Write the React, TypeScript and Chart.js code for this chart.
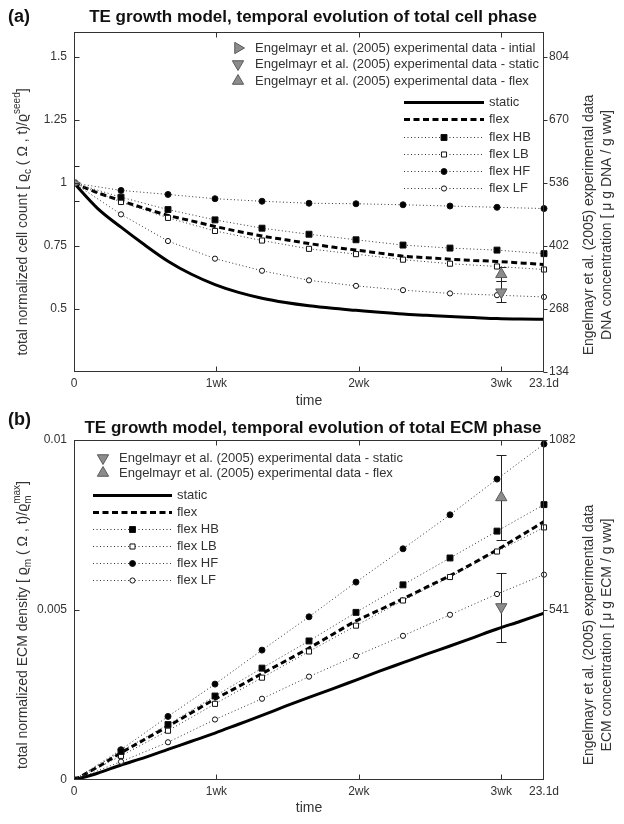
import React, { useEffect, useRef } from 'react';
import { Chart, registerables } from 'chart.js';

Chart.register(...registerables);

const FONT = "'Liberation Sans', Arial, Helvetica, sans-serif";

// ---------- shared time axis ----------
const X_TICKS = [0, 7, 14, 21, 23.1];
const X_TICK_LABELS = ['0', '1wk', '2wk', '3wk', '23.1d'];
const DAYS = [0, 2.31, 4.62, 6.93, 9.24, 11.55, 13.86, 16.17, 18.48, 20.79, 23.1];
const DAYS_FINE = [0, 1.155, 2.31, 3.465, 4.62, 5.775, 6.93, 8.085, 9.24, 10.395, 11.55, 12.705, 13.86, 15.015, 16.17, 17.325, 18.48, 19.635, 20.79, 21.945, 23.1];

// ---------- (a) cell phase ----------
const A_Y_TICKS = [0.5, 0.75, 1, 1.25, 1.5];
const A_Y_TICK_LABELS = ['0.5', '0.75', '1', '1.25', '1.5'];
const A_Y2_TICKS = [134, 268, 402, 536, 670, 804];
const A_STATIC = [1.0, 0.9, 0.825, 0.755, 0.69, 0.638, 0.597, 0.566, 0.543, 0.526, 0.513, 0.503, 0.495, 0.487, 0.48, 0.475, 0.47, 0.466, 0.462, 0.46, 0.459];
const A_FLEX = [1.0, 0.962, 0.93, 0.9, 0.872, 0.85, 0.828, 0.808, 0.79, 0.775, 0.76, 0.746, 0.734, 0.722, 0.71, 0.704, 0.698, 0.693, 0.689, 0.683, 0.677];
const A_HB = [1, 0.944, 0.895, 0.854, 0.821, 0.797, 0.775, 0.754, 0.742, 0.734, 0.72];
const A_LB = [1, 0.925, 0.862, 0.81, 0.772, 0.739, 0.718, 0.696, 0.68, 0.669, 0.657];
const A_HF = [1, 0.971, 0.955, 0.938, 0.928, 0.92, 0.918, 0.914, 0.909, 0.904, 0.899];
const A_LF = [1, 0.876, 0.77, 0.7, 0.652, 0.614, 0.592, 0.575, 0.562, 0.555, 0.548];
const A_EXP_LABELS = [
  'Engelmayr et al. (2005) experimental data - intial',
  'Engelmayr et al. (2005) experimental data - static',
  'Engelmayr et al. (2005) experimental data - flex',
];
const A_EXP_DAY = [0, 21, 21];
const A_EXP_MEAN = [1.0, 0.567, 0.638];
const A_EXP_LO = [0.929, 0.528, 0.611];
const A_EXP_HI = [1.067, 0.611, 0.667];

// ---------- (b) ECM phase ----------
const B_Y_TICKS = [0, 0.005, 0.01];
const B_Y_TICK_LABELS = ['0', '0.005', '0.01'];
const B_Y2_TICKS = [541, 1082];
const B_STATIC = [0, 0.0002, 0.00044, 0.00066, 0.0009, 0.00114, 0.00138, 0.00164, 0.0019, 0.00217, 0.00243, 0.00268, 0.00294, 0.0032, 0.00345, 0.0037, 0.00394, 0.00419, 0.00444, 0.00467, 0.00491];
const B_FLEX = [0, 0.00038, 0.0008, 0.00119, 0.00158, 0.00198, 0.00238, 0.00275, 0.00313, 0.0035, 0.00388, 0.00428, 0.00468, 0.005, 0.00533, 0.00567, 0.00601, 0.00638, 0.00677, 0.00718, 0.0076];
const B_HB = [0, 0.00084, 0.00163, 0.00247, 0.00329, 0.00409, 0.00493, 0.00574, 0.00653, 0.00732, 0.0081];
const B_LB = [0, 0.00071, 0.00145, 0.00224, 0.00301, 0.00378, 0.00454, 0.00528, 0.00597, 0.00672, 0.00743];
const B_HF = [0, 0.00089, 0.00187, 0.00282, 0.00382, 0.0048, 0.00582, 0.0068, 0.0078, 0.00885, 0.00988];
const B_LF = [0, 0.00054, 0.00111, 0.00178, 0.00239, 0.00304, 0.00365, 0.00424, 0.00486, 0.00547, 0.00604];
const B_EXP_LABELS = [
  'Engelmayr et al. (2005) experimental data - static',
  'Engelmayr et al. (2005) experimental data - flex',
];
const B_EXP_DAY = [21, 21];
const B_EXP_MEAN = [0.00509, 0.00831];
const B_EXP_LO = [0.00405, 0.00707];
const B_EXP_HI = [0.0061, 0.00956];

const SERIES_LABELS = ['static', 'flex', 'flex HB', 'flex LB', 'flex HF', 'flex LF'];

// ---------- helpers ----------
const pts = (xs: number[], ys: number[]) => xs.map((x, i) => ({ x, y: ys[i] }));

type Seg = { t: string; k?: 'n' | 'sub' | 'sup' | 'subsup'; sub?: string; sup?: string };

function drawRichVertical(ctx: CanvasRenderingContext2D, segs: Seg[], cx: number, cy: number, size: number) {
  const small = Math.round(size * 0.72);
  const nf = `${size}px ${FONT}`;
  const sf = `${small}px ${FONT}`;
  const widthOf = (s: Seg) => {
    if (!s.k || s.k === 'n') { ctx.font = nf; return ctx.measureText(s.t).width; }
    ctx.font = sf;
    if (s.k === 'subsup') return Math.max(ctx.measureText(s.sub || '').width, ctx.measureText(s.sup || '').width);
    return ctx.measureText(s.t).width;
  };
  const total = segs.reduce((a, s) => a + widthOf(s), 0);
  ctx.save();
  ctx.translate(cx, cy);
  ctx.rotate(-Math.PI / 2);
  ctx.textBaseline = 'alphabetic';
  ctx.textAlign = 'left';
  ctx.fillStyle = '#333';
  let x = -total / 2;
  const base = size * 0.35;
  segs.forEach((s) => {
    const w = widthOf(s);
    if (!s.k || s.k === 'n') { ctx.font = nf; ctx.fillText(s.t, x, base); }
    else if (s.k === 'sub') { ctx.font = sf; ctx.fillText(s.t, x, base + size * 0.28); }
    else if (s.k === 'sup') { ctx.font = sf; ctx.fillText(s.t, x, base - size * 0.5); }
    else { ctx.font = sf; ctx.fillText(s.sub || '', x, base + size * 0.28); ctx.fillText(s.sup || '', x, base - size * 0.5); }
    x += w;
  });
  ctx.restore();
}

function drawMarker(ctx: CanvasRenderingContext2D, style: string, x: number, y: number, r: number, rot: number, fill: string, stroke: string, bw: number) {
  ctx.save();
  ctx.translate(x, y);
  ctx.rotate((rot * Math.PI) / 180);
  ctx.setLineDash([]);
  ctx.beginPath();
  if (style === 'circle') ctx.arc(0, 0, r, 0, Math.PI * 2);
  else if (style === 'rect') { const s = r * Math.SQRT1_2; ctx.rect(-s, -s, 2 * s, 2 * s); }
  else if (style === 'triangle') {
    for (let k = 0; k < 3; k++) {
      const a = (k * 2 * Math.PI) / 3;
      const px = Math.sin(a) * r, py = -Math.cos(a) * r;
      if (k === 0) ctx.moveTo(px, py); else ctx.lineTo(px, py);
    }
    ctx.closePath();
  }
  ctx.fillStyle = fill;
  ctx.fill();
  if (bw > 0) { ctx.lineWidth = bw; ctx.strokeStyle = stroke; ctx.stroke(); }
  ctx.restore();
}

interface DecorCfg {
  id: string;
  letter: string;
  letterX: number; letterY: number;
  title: string; titleY: number;
  leftTitle: Seg[]; leftTitleX: number; leftTitleY: number;
  rightTitle: string[]; rightTitleX: number[]; rightTitleY: number;
  xTitleY: number;
  err: { day: number[]; lo: number[]; hi: number[] };
  yTicks: number[]; y2Ticks: number[];
  legMarkers: { ds: number; y: number }[]; legMarkerX: number; legMarkerTextX: number;
  legLines: { ds: number; y: number }[]; legLineX0: number; legLineX1: number; legLineTextX: number;
}

function makeDecor(cfg: DecorCfg) {
  return {
    id: cfg.id,
    beforeDatasetsDraw(chart: any) {
      const { ctx, chartArea: a, scales } = chart;
      ctx.save();
      ctx.beginPath();
      ctx.rect(a.left, a.top, a.right - a.left, a.bottom - a.top);
      ctx.clip();
      ctx.strokeStyle = '#222';
      ctx.lineWidth = 1;
      ctx.setLineDash([]);
      cfg.err.day.forEach((d, i) => {
        const x = Math.round(scales.x.getPixelForValue(d)) + 0.5;
        const ya = Math.round(scales.y.getPixelForValue(cfg.err.lo[i])) + 0.5;
        const yb = Math.round(scales.y.getPixelForValue(cfg.err.hi[i])) + 0.5;
        ctx.beginPath();
        ctx.moveTo(x, ya); ctx.lineTo(x, yb);
        ctx.moveTo(x - 5, ya); ctx.lineTo(x + 5, ya);
        ctx.moveTo(x - 5, yb); ctx.lineTo(x + 5, yb);
        ctx.stroke();
      });
      ctx.restore();
    },
    afterDraw(chart: any) {
      const { ctx, chartArea: a, scales } = chart;
      const L = Math.round(a.left) + 0.5, R = Math.round(a.right) - 0.5;
      const T = Math.round(a.top) + 0.5, B = Math.round(a.bottom) - 0.5;
      ctx.save();
      ctx.setLineDash([]);
      ctx.strokeStyle = '#333';
      ctx.lineWidth = 1;
      ctx.strokeRect(L, T, R - L, B - T);
      ctx.beginPath();
      X_TICKS.forEach((v) => {
        const px = Math.round(scales.x.getPixelForValue(v)) + 0.5;
        if (px <= L + 1 || px >= R - 1) return;
        ctx.moveTo(px, B); ctx.lineTo(px, B - 5);
        ctx.moveTo(px, T); ctx.lineTo(px, T + 5);
      });
      cfg.yTicks.forEach((v) => {
        const py = Math.round(scales.y.getPixelForValue(v)) + 0.5;
        if (py <= T + 1 || py >= B - 1) return;
        ctx.moveTo(L, py); ctx.lineTo(L + 5, py);
      });
      cfg.y2Ticks.forEach((v) => {
        const py = Math.round(scales.y1.getPixelForValue(v)) + 0.5;
        ctx.moveTo(R, py); ctx.lineTo(R + 4, py);
      });
      ctx.stroke();

      // titles
      ctx.fillStyle = '#111';
      ctx.textBaseline = 'middle';
      ctx.textAlign = 'left';
      ctx.font = `bold 18px ${FONT}`;
      ctx.fillText(cfg.letter, cfg.letterX, cfg.letterY);
      ctx.textAlign = 'center';
      ctx.font = `bold 17px ${FONT}`;
      ctx.fillText(cfg.title, (a.left + a.right) / 2 + 4, cfg.titleY);

      // x title
      ctx.fillStyle = '#333';
      ctx.font = `14px ${FONT}`;
      ctx.fillText('time', (a.left + a.right) / 2, cfg.xTitleY);

      // left title
      drawRichVertical(ctx, cfg.leftTitle, cfg.leftTitleX, cfg.leftTitleY, 14);

      // right titles
      cfg.rightTitle.forEach((t, i) => {
        ctx.save();
        ctx.translate(cfg.rightTitleX[i], cfg.rightTitleY);
        ctx.rotate(-Math.PI / 2);
        ctx.textAlign = 'center';
        ctx.textBaseline = 'middle';
        ctx.fillStyle = '#333';
        ctx.font = `14px ${FONT}`;
        ctx.fillText(t, 0, 0);
        ctx.restore();
      });

      // legend
      const dss = chart.data.datasets;
      ctx.font = `13px ${FONT}`;
      ctx.textAlign = 'left';
      ctx.textBaseline = 'middle';
      cfg.legMarkers.forEach((m) => {
        const d = dss[m.ds];
        drawMarker(ctx, d.pointStyle, cfg.legMarkerX, m.y, d.pointRadius, d.pointRotation || 0, d.pointBackgroundColor, d.pointBorderColor, d.pointBorderWidth);
        ctx.fillStyle = '#333';
        ctx.fillText(d.label, cfg.legMarkerTextX, m.y);
      });
      cfg.legLines.forEach((m) => {
        const d = dss[m.ds];
        ctx.save();
        ctx.beginPath();
        ctx.setLineDash(d.borderDash || []);
        ctx.lineWidth = d.borderWidth;
        ctx.strokeStyle = d.borderColor;
        ctx.moveTo(cfg.legLineX0, m.y + 0.5);
        ctx.lineTo(cfg.legLineX1, m.y + 0.5);
        ctx.stroke();
        ctx.restore();
        if (d.pointRadius > 0) {
          drawMarker(ctx, d.pointStyle, (cfg.legLineX0 + cfg.legLineX1) / 2, m.y + 0.5, d.pointRadius, 0, d.pointBackgroundColor, d.pointBorderColor, d.pointBorderWidth);
        }
        ctx.fillStyle = '#333';
        ctx.fillText(d.label, cfg.legLineTextX, m.y);
      });
      ctx.restore();
    },
  };
}

const SERIES_CLIP = { left: 0, top: 0, right: 8, bottom: 0 };

function buildDatasets(expLabels: string[], expDay: number[], expMean: number[], expRot: number[], s: number[][], f: number[][]) {
  const exp = expLabels.map((lab, i) => ({
    label: lab,
    data: [{ x: expDay[i], y: expMean[i] }],
    showLine: false,
    pointStyle: 'triangle',
    pointRadius: 6.5,
    pointRotation: expRot[i],
    pointBackgroundColor: '#8c8c8c',
    pointBorderColor: '#5a5a5a',
    pointBorderWidth: 1,
    borderColor: '#5a5a5a',
  }));
  const dotted = (lab: string, ys: number[], style: string, r: number, fill: string) => ({
    label: lab,
    data: pts(DAYS, ys),
    borderColor: '#333',
    borderWidth: 1,
    borderDash: [1, 2.5],
    tension: 0,
    pointStyle: style,
    pointRadius: r,
    pointBackgroundColor: fill,
    pointBorderColor: '#111',
    pointBorderWidth: 1,
    clip: SERIES_CLIP,
  });
  return [
    ...exp,
    dotted(SERIES_LABELS[2], s[0], 'rect', 4.2, '#000'),
    dotted(SERIES_LABELS[3], s[1], 'rect', 3.6, '#fff'),
    dotted(SERIES_LABELS[4], s[2], 'circle', 3, '#000'),
    dotted(SERIES_LABELS[5], s[3], 'circle', 2.6, '#fff'),
    {
      label: SERIES_LABELS[1], data: pts(DAYS_FINE, f[1]), borderColor: '#000', borderWidth: 3,
      borderDash: [6, 3.5], pointRadius: 0, cubicInterpolationMode: 'monotone',
    },
    {
      label: SERIES_LABELS[0], data: pts(DAYS_FINE, f[0]), borderColor: '#000', borderWidth: 3,
      borderDash: [], pointRadius: 0, cubicInterpolationMode: 'monotone',
    },
  ];
}

function baseOptions(padTop: number, xHeight: number, yMin: number, yMax: number, yTicks: number[], yLabels: string[], y2Min: number, y2Max: number, y2Ticks: number[]) {
  const tickFont = { size: 12, family: FONT };
  return {
    responsive: false,
    animation: false,
    events: [],
    layout: { padding: { top: padTop, left: 0, right: 0, bottom: 0 } },
    plugins: { legend: { display: false }, tooltip: { enabled: false }, title: { display: false } },
    scales: {
      x: {
        type: 'linear', min: 0, max: 23.1,
        grid: { display: false, drawTicks: false }, border: { display: false },
        afterBuildTicks: (s: any) => { s.ticks = X_TICKS.map((v) => ({ value: v })); },
        afterFit: (s: any) => { s.height = xHeight; },
        ticks: { autoSkip: false, maxRotation: 0, padding: 4, color: '#333', font: tickFont, callback: (_v: any, i: number) => X_TICK_LABELS[i] },
      },
      y: {
        type: 'linear', position: 'left', min: yMin, max: yMax,
        grid: { display: false, drawTicks: false }, border: { display: false },
        afterBuildTicks: (s: any) => { s.ticks = yTicks.map((v) => ({ value: v })); },
        afterFit: (s: any) => { s.width = 74; },
        ticks: { autoSkip: false, padding: 7, color: '#333', font: tickFont, callback: (_v: any, i: number) => yLabels[i] },
      },
      y1: {
        type: 'linear', position: 'right', min: y2Min, max: y2Max,
        grid: { display: false, drawTicks: false }, border: { display: false },
        afterBuildTicks: (s: any) => { s.ticks = y2Ticks.map((v) => ({ value: v })); },
        afterFit: (s: any) => { s.width = 80; },
        ticks: { autoSkip: false, padding: 5, color: '#333', font: tickFont, callback: (v: any) => String(v) },
      },
    },
  };
}

function buildA(): any {
  return {
    type: 'line',
    data: { datasets: buildDatasets(A_EXP_LABELS, A_EXP_DAY, A_EXP_MEAN, [90, 180, 0], [A_HB, A_LB, A_HF, A_LF], [A_STATIC, A_FLEX]) },
    options: baseOptions(32, 40, 0.25, 1.6, A_Y_TICKS, A_Y_TICK_LABELS, 134, 857.6, A_Y2_TICKS),
    plugins: [makeDecor({
      id: 'decorA', letter: '(a)', letterX: 8, letterY: 17,
      title: 'TE growth model, temporal evolution of total cell phase', titleY: 17,
      leftTitle: [
        { t: 'total normalized cell count [ ϱ' }, { t: 'c', k: 'sub' }, { t: ' ( Ω , t)/ϱ' }, { t: 'seed', k: 'sup' }, { t: ']' },
      ],
      leftTitleX: 22, leftTitleY: 222,
      rightTitle: ['Engelmayr et al. (2005) experimental data', 'DNA concentration [ μ g DNA / g ww]'],
      rightTitleX: [589, 607], rightTitleY: 225,
      xTitleY: 401,
      err: { day: A_EXP_DAY, lo: A_EXP_LO, hi: A_EXP_HI },
      yTicks: A_Y_TICKS, y2Ticks: A_Y2_TICKS,
      legMarkers: [{ ds: 0, y: 48 }, { ds: 1, y: 64 }, { ds: 2, y: 81 }], legMarkerX: 238, legMarkerTextX: 255,
      legLines: [{ ds: 8, y: 102 }, { ds: 7, y: 119 }, { ds: 3, y: 137 }, { ds: 4, y: 154 }, { ds: 5, y: 171 }, { ds: 6, y: 188 }],
      legLineX0: 404, legLineX1: 484, legLineTextX: 489,
    })],
  };
}

function buildB(): any {
  return {
    type: 'line',
    data: { datasets: buildDatasets(B_EXP_LABELS, B_EXP_DAY, B_EXP_MEAN, [180, 0], [B_HB, B_LB, B_HF, B_LF], [B_STATIC, B_FLEX]) },
    options: baseOptions(28, 44, 0, 0.01, B_Y_TICKS, B_Y_TICK_LABELS, 0, 1082, B_Y2_TICKS),
    plugins: [makeDecor({
      id: 'decorB', letter: '(b)', letterX: 8, letterY: 8,
      title: 'TE growth model, temporal evolution of total ECM phase', titleY: 16,
      leftTitle: [
        { t: 'total normalized ECM density [ ϱ' }, { t: 'm', k: 'sub' }, { t: ' ( Ω , t)/ϱ' }, { t: '', k: 'subsup', sub: 'm', sup: 'max' }, { t: ']' },
      ],
      leftTitleX: 22, leftTitleY: 213,
      rightTitle: ['Engelmayr et al. (2005) experimental data', 'ECM concentration [ μ g ECM / g ww]'],
      rightTitleX: [589, 607], rightTitleY: 223,
      xTitleY: 396,
      err: { day: B_EXP_DAY, lo: B_EXP_LO, hi: B_EXP_HI },
      yTicks: B_Y_TICKS, y2Ticks: B_Y2_TICKS,
      legMarkers: [{ ds: 0, y: 46 }, { ds: 1, y: 61 }], legMarkerX: 103, legMarkerTextX: 119,
      legLines: [{ ds: 7, y: 83 }, { ds: 6, y: 100 }, { ds: 2, y: 117 }, { ds: 3, y: 134 }, { ds: 4, y: 151 }, { ds: 5, y: 168 }],
      legLineX0: 93, legLineX1: 172, legLineTextX: 177,
    })],
  };
}

function ChartCanvas({ build, top }: { build: () => any; top: number }) {
  const ref = useRef<HTMLCanvasElement>(null);
  useEffect(() => {
    const chart = new Chart(ref.current as HTMLCanvasElement, build());
    return () => chart.destroy();
  }, []);
  return (
    <canvas
      ref={ref}
      width={624}
      height={412}
      style={{ position: 'absolute', left: 0, top, width: 624, height: 412, display: 'block' }}
    />
  );
}

export default function App() {
  return (
    <div style={{ position: 'absolute', left: 0, top: 0, width: 624, height: 824, background: '#fff', overflow: 'hidden' }}>
      <ChartCanvas build={buildA} top={0} />
      <ChartCanvas build={buildB} top={412} />
    </div>
  );
}
